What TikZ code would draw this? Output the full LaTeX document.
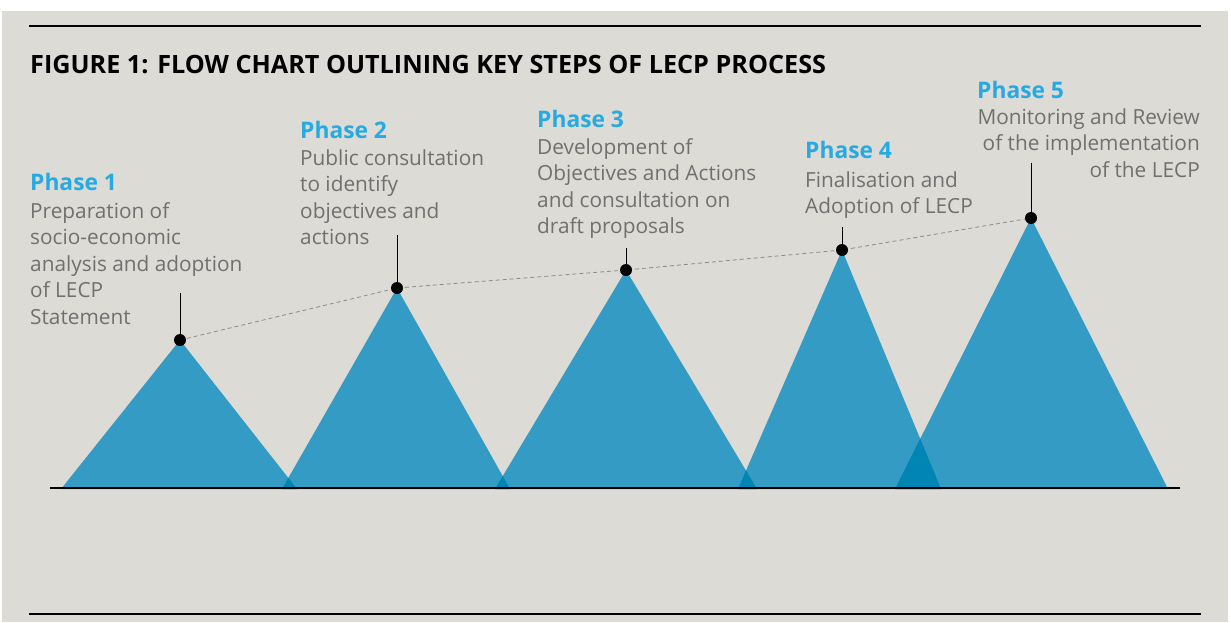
\documentclass[tikz,border=0pt]{standalone}
\usepackage{fontspec}
\setmainfont{Open Sans}
\definecolor{bg}{RGB}{220,219,214}
\definecolor{tri}{RGB}{51,155,196}
\definecolor{triover}{RGB}{0,133,181}
\definecolor{phaseblue}{RGB}{39,170,225}
\definecolor{bodygrey}{RGB}{112,112,112}
\definecolor{dashgrey}{RGB}{140,140,135}
\tikzset{
  phaselbl/.style={font=\fontsize{22.8}{26}\selectfont\bfseries, text=phaseblue, inner sep=0pt, anchor=base west},
  bodytxt/.style={font=\fontsize{20.8}{26.5}\selectfont, text=bodygrey, inner sep=0pt, anchor=base west, align=left},
  dot/.style={circle, fill=black, inner sep=0pt, minimum size=12pt},
  rule/.style={line width=1.2pt, black},
}
\begin{document}
\begin{tikzpicture}[x=1pt,y=-1pt]
\useasboundingbox (0,0) rectangle (1231,622);
\fill[white] (0,0) rectangle (1231,622);
\fill[bg] (2,11) rectangle (1228,622);
% rules
\coordinate (rt1) at (29,26); \coordinate (rt2) at (1201,26);
\coordinate (rb1) at (29,614); \coordinate (rb2) at (1201,614);
\draw[rule] (rt1) -- (rt2);
\draw[rule] (rb1) -- (rb2);
% title
\node[font=\fontsize{25.2}{30}\selectfont\bfseries, inner sep=0pt, anchor=base west] (title) at (30,73) {FIGURE 1: FLOW CHART OUTLINING KEY STEPS OF LECP PROCESS};
% apexes
\coordinate (a1) at (180,340);
\coordinate (a2) at (397,288);
\coordinate (a3) at (626,270);
\coordinate (a4) at (842,250);
\coordinate (a5) at (1031,218);
% triangles
\fill[tri] (a1) -- (297,489) -- (61,489) -- cycle;
\fill[tri] (a2) -- (510,489) -- (282,489) -- cycle;
\fill[tri] (a3) -- (757,489) -- (495,489) -- cycle;
\fill[tri] (a4) -- (941,489) -- (738,489) -- cycle;
\fill[tri] (a5) -- (1168,489) -- (895,489) -- cycle;
% overlaps
\begin{scope}
\clip (a1) -- (297,489) -- (61,489) -- cycle;
\fill[triover] (a2) -- (510,489) -- (282,489) -- cycle;
\end{scope}
\begin{scope}
\clip (a2) -- (510,489) -- (282,489) -- cycle;
\fill[triover] (a3) -- (757,489) -- (495,489) -- cycle;
\end{scope}
\begin{scope}
\clip (a3) -- (757,489) -- (495,489) -- cycle;
\fill[triover] (a4) -- (941,489) -- (738,489) -- cycle;
\end{scope}
\begin{scope}
\clip (a4) -- (941,489) -- (738,489) -- cycle;
\fill[triover] (a5) -- (1168,489) -- (895,489) -- cycle;
\end{scope}
% base line
\coordinate (bl1) at (50,488); \coordinate (bl2) at (1180,488);
\draw[line width=1.2pt] (bl1) -- (bl2);
% dashed connector
\draw[dashgrey, line width=0.8pt, dash pattern=on 4pt off 3pt] (a1) -- (a2) -- (a3) -- (a4) -- (a5);
% stems
\coordinate (s1) at (180,293);
\coordinate (s2) at (397,235);
\coordinate (s3) at (626,248);
\coordinate (s4) at (842,227);
\coordinate (s5) at (1031,163);
\draw[line width=0.9pt] (s1) -- (a1);
\draw[line width=0.9pt] (s2) -- (a2);
\draw[line width=0.9pt] (s3) -- (a3);
\draw[line width=0.9pt] (s4) -- (a4);
\draw[line width=0.9pt] (s5) -- (a5);
\node[dot] (d1) at (a1) {};
\node[dot] (d2) at (a2) {};
\node[dot] (d3) at (a3) {};
\node[dot] (d4) at (a4) {};
\node[dot] (d5) at (a5) {};
% texts (multi-line nodes: base = last line's baseline)
\node[phaselbl] (ph1) at (30,190) {Phase 1};
\node[bodytxt] (b1) at (30,324) {Preparation of\\socio-economic\\analysis and adoption\\of LECP\\Statement};
\node[phaselbl] (ph2) at (300,138) {Phase 2};
\node[bodytxt] (b2) at (300,244.5) {Public consultation\\to identify\\objectives and\\actions};
\node[phaselbl] (ph3) at (537,127) {Phase 3};
\node[bodytxt] (b3) at (537,233.5) {Development of\\Objectives and Actions\\and consultation on\\draft proposals};
\node[phaselbl] (ph4) at (805,158) {Phase 4};
\node[bodytxt] (b4) at (805,213.5) {Finalisation and\\Adoption of LECP};
\node[phaselbl] (ph5) at (977,98) {Phase 5};
\node[bodytxt, align=right, anchor=base east] (b5) at (1200,177) {Monitoring and Review\\of the implementation\\of the LECP};
\end{tikzpicture}
\end{document}
